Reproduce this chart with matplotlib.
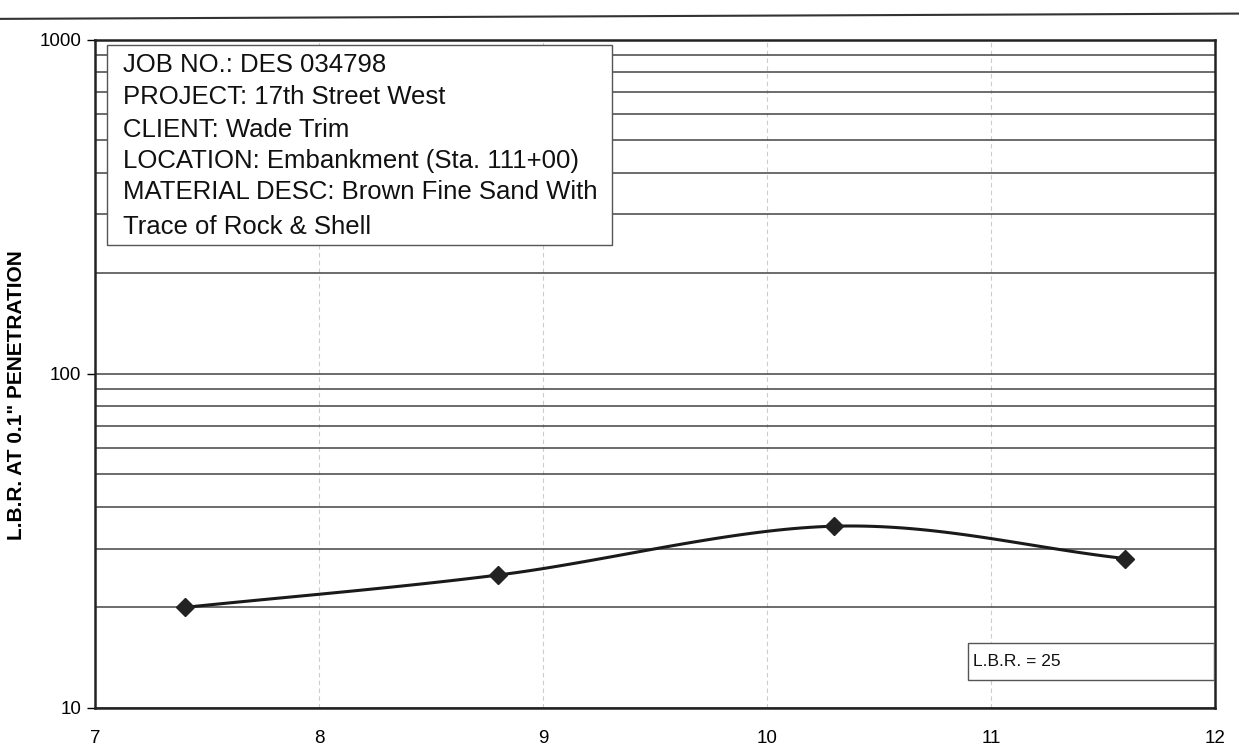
import numpy as np
import matplotlib.pyplot as plt
from matplotlib.patches import Rectangle
from matplotlib.lines import Line2D
from matplotlib.ticker import FixedLocator, NullFormatter

# Data
moisture = [7.4, 8.8, 10.3, 11.6]
lbr = [20, 25, 35, 28]

info_lines = [
    "JOB NO.: DES 034798",
    "PROJECT: 17th Street West",
    "CLIENT: Wade Trim",
    "LOCATION: Embankment (Sta. 111+00)",
    "MATERIAL DESC: Brown Fine Sand With",
    "Trace of Rock & Shell",
]
lbr_label = "L.B.R. = 25"
x_ticks = [7, 8, 9, 10, 11, 12]
y_ticks = [10, 100, 1000]

plt.rcParams['font.family'] = ['Liberation Sans', 'DejaVu Sans']


def smooth(xs, ys, n=40):
    # Catmull-Rom style smoothing (like Excel's smoothed line), done in log space
    xs = np.asarray(xs, float)
    ys = np.log10(np.asarray(ys, float))
    px = np.concatenate([[2 * xs[0] - xs[1]], xs, [2 * xs[-1] - xs[-2]]])
    py = np.concatenate([[2 * ys[0] - ys[1]], ys, [2 * ys[-1] - ys[-2]]])
    outx, outy = [], []
    for i in range(1, len(px) - 2):
        t = np.linspace(0, 1, n)
        for arr, out in ((px, outx), (py, outy)):
            p0, p1, p2, p3 = arr[i - 1], arr[i], arr[i + 1], arr[i + 2]
            out.extend(0.5 * ((2 * p1) + (-p0 + p2) * t
                              + (2 * p0 - 5 * p1 + 4 * p2 - p3) * t ** 2
                              + (-p0 + 3 * p1 - 3 * p2 + p3) * t ** 3))
    return np.array(outx), 10 ** np.array(outy)


fig = plt.figure(figsize=(12.39, 7.55), dpi=100)
ax = fig.add_axes([0.0767, 0.0623, 0.904, 0.885])

ax.set_yscale('log')
ax.set_xlim(7, 12)
ax.set_ylim(10, 1000)

# grid: dark horizontal lines at every log step, faint vertical ones
ax.yaxis.set_major_locator(FixedLocator(y_ticks))
ax.yaxis.set_minor_locator(FixedLocator([v * d for d in (10, 100) for v in range(2, 10)]))
ax.yaxis.set_minor_formatter(NullFormatter())
ax.set_yticklabels([str(v) for v in y_ticks])
ax.grid(axis='y', which='both', color='#444444', linewidth=1.1)
ax.set_xticks(x_ticks)
ax.grid(axis='x', which='major', color='#cccccc', linewidth=0.8, linestyle=(0, (4, 3)))

ax.tick_params(axis='y', which='major', length=6, width=1, labelsize=13.5, pad=4)
ax.tick_params(axis='y', which='minor', length=0)
ax.tick_params(axis='x', length=0, labelsize=13.5, pad=16)

for sp in ax.spines.values():
    sp.set_linewidth(1.8)
    sp.set_color('#222222')

ax.set_ylabel('L.B.R. AT 0.1" PENETRATION', fontsize=15, fontweight='bold')
ax.yaxis.set_label_coords(-0.0616, 0.4686)

sx, sy = smooth(moisture, lbr)
ax.plot(sx, sy, color='#1a1a1a', linewidth=2.2, zorder=3)
ax.plot(moisture, lbr, linestyle='none', marker='D', markersize=9,
        color='#222222', zorder=4)

# info box
ax.add_patch(Rectangle((0.0107, 0.693), 0.451, 0.2995, transform=ax.transAxes,
                       facecolor='white', edgecolor='#555555', linewidth=1.0, zorder=5))
line_y = [65, 97, 130, 161, 192, 227]
for txt, py in zip(info_lines, line_y):
    ax.text(0.025, (708 - py) / 668, txt, transform=ax.transAxes, fontsize=18.5,
            va='center', ha='left', color='#111111', zorder=6)

# L.B.R. box
ax.add_patch(Rectangle((0.779, 0.042), 0.22, 0.055, transform=ax.transAxes,
                       facecolor='white', edgecolor='#555555', linewidth=1.0, zorder=5))
ax.text(0.784, 0.069, lbr_label, transform=ax.transAxes, fontsize=12.5,
        va='center', ha='left', color='#111111', zorder=6)

# scan edge line at top of page
fig.add_artist(Line2D([0, 1], [0.975, 0.982], transform=fig.transFigure,
                      color='#333333', linewidth=1.5))

fig.savefig('out.png', dpi=100)
